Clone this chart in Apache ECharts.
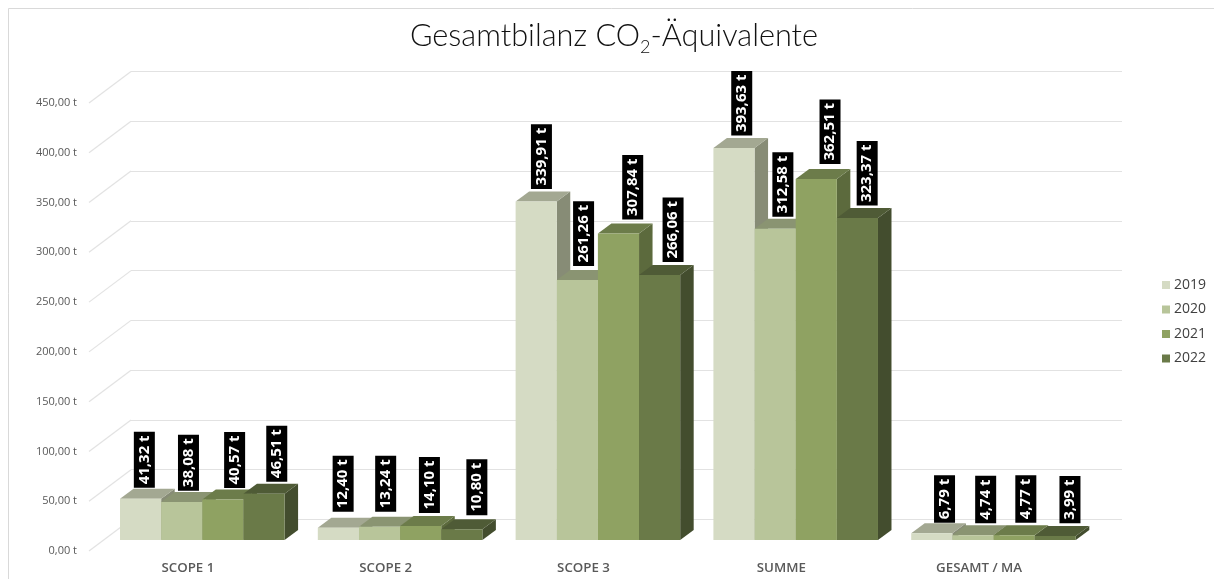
<!DOCTYPE html>
<html><head><meta charset="utf-8">
<style>html,body{margin:0;padding:0;background:#fff}#c{width:1214px;height:579px}</style>
<script src="https://cdn.jsdelivr.net/npm/echarts@6/dist/echarts.min.js"></script>
</head><body><div id="c"></div>
<script>
const categories = ['SCOPE 1','SCOPE 2','SCOPE 3','SUMME','GESAMT / MA'];
const years = ['2019','2020','2021','2022'];
const v2019 = [41.32,12.40,339.91,393.63,6.79];
const v2020 = [38.08,13.24,261.26,312.58,4.74];
const v2021 = [40.57,14.10,307.84,362.51,4.77];
const v2022 = [46.51,10.80,266.06,323.37,3.99];
const axisTicks = [0,50,100,150,200,250,300,350,400,450];
const values = [v2019,v2020,v2021,v2022];

const frontColors = ['#D5DBC4','#B8C59A','#8FA262','#6A7A48'];
const topColors   = ['#A3A892','#8A9472','#6C7C4A','#4F5B36'];
const sideColors  = ['#878C76','#7A8462','#5C6A3D','#434D2E'];
const DX = 13.5, DY = -10;
const FONT = '"Open Sans"';
// hand-placed label nudges of the original, px relative to the default anchor
const nudgeX = [[-3,0,5,6],[-2,-0.6,2,8.3],[-1.5,-0.5,7.5,6.7],[1,1,7,3],[6,6,5,8]];
const labelGap = [[1,1.4,1.6,2],[6,5,3,4],[2.7,4,4,3],[2.5,2,5,2.5],[0.5,2,2.5,2.7]];

function fmt(v){return v.toFixed(2).replace('.',',');}

function barItem(si){
  return function(params, api){
    const cat = api.value(0), val = api.value(1);
    const c0 = api.coord([cat,0]), c1 = api.coord([cat,val]);
    const band = api.size([1,0])[0];
    const w = band*0.832/4;
    const x0 = c0[0]-band*0.416+si*w, x1 = x0+w, yb = c0[1], yt = c1[1];
    const poly=(pts,fill,z)=>({type:'polygon',shape:{points:pts},style:{fill:fill},z2:z,silent:true});
    const zb = 10+si;
    return {type:'group',children:[
      poly([[x1,yb],[x1+DX,yb+DY],[x1+DX,yt+DY],[x1,yt]],sideColors[si],zb),
      poly([[x0,yt],[x1,yt],[x1+DX,yt+DY],[x0+DX,yt+DY]],topColors[si],zb),
      poly([[x0,yb],[x1,yb],[x1,yt],[x0,yt]],frontColors[si],zb),
      {type:'text',x:(x0+x1+DX)/2+nudgeX[cat][si],y:yt+DY-labelGap[cat][si],rotation:Math.PI/2,z2:100,silent:true,
       style:{text:fmt(val)+' t',fill:'#fff',font:'700 15px '+FONT,align:'left',verticalAlign:'middle',
              backgroundColor:'#000',padding:[3,3.5,3,3.5]}}
    ]};
  };
}
function diagItem(params, api){
  const v = api.value(0);
  const p = api.coord([0,v]);
  const x = p[0]-api.size([1,0])[0]/2;
  return {type:'line',shape:{x1:x,y1:p[1],x2:x+42,y2:p[1]-31.5},style:{stroke:'#E2E2E2',lineWidth:1.2},silent:true};
}

const barSeries = years.map((y,si)=>({
  name:y,type:'custom',xAxisIndex:0,yAxisIndex:0,coordinateSystem:'cartesian2d',
  clip:false,animation:false,silent:true,z:5,
  itemStyle:{color:frontColors[si]},
  renderItem:barItem(si),
  encode:{x:0,y:1},
  data:categories.map((c,i)=>[i,values[si][i]])
}));
const diagSeries = {type:'custom',xAxisIndex:1,yAxisIndex:1,clip:false,animation:false,silent:true,z:1,
  renderItem:diagItem,encode:{y:0},data:axisTicks.map(t=>[t])};

const yBase = {type:'value',min:0,max:450,interval:50,axisLine:{show:false},axisTick:{show:false},axisLabel:{show:false},splitLine:{show:false}};
const xBase = {type:'category',data:categories,axisLine:{show:false},axisTick:{show:false},axisLabel:{show:false},splitLine:{show:false}};

const chart = echarts.init(document.getElementById('c'),null,{renderer:'canvas'});
chart.setOption({
  animation:false,backgroundColor:'#fff',
  graphic:[
    {type:'polyline',silent:true,shape:{points:[[8.5,579],[8.5,8.5],[1214,8.5]]},style:{fill:null,stroke:'#D9D9D9',lineWidth:1}}
  ],
  title:{text:'{a|Gesamtbilanz CO}{s|2}{a|-Äquivalente}',left:609,top:12,textAlign:'center',
    textStyle:{rich:{
      a:{fontFamily:'Lato',fontWeight:300,fontSize:30.7,color:'#111111',lineHeight:38},
      s:{fontFamily:'Lato',fontWeight:300,fontSize:18,color:'#111111',lineHeight:38,padding:[22,0,0,0]}
    }}},
  legend:{data:years,orient:'vertical',left:1157,top:273,itemWidth:8,itemHeight:8,itemGap:10.5,icon:'rect',
    textStyle:{fontFamily:FONT,fontSize:14,color:'#404040',padding:[0,0,0,-1]}},
  grid:[
    {left:103.4,top:92,width:989,height:448},
    {left:89,top:103,width:989,height:448},
    {left:131,top:71.5,width:991,height:448}
  ],
  xAxis:[
    Object.assign({},xBase,{gridIndex:0}),
    Object.assign({},xBase,{gridIndex:1,axisLabel:{show:true,margin:11,fontFamily:FONT,fontSize:13.3,fontWeight:600,color:'#595959'}}),
    Object.assign({},xBase,{gridIndex:2})
  ],
  yAxis:[
    Object.assign({},yBase,{gridIndex:0}),
    Object.assign({},yBase,{gridIndex:1,axisLabel:{show:true,margin:12,fontFamily:FONT,fontSize:11,color:'#595959',formatter:v=>fmt(v)+' t'}}),
    Object.assign({},yBase,{gridIndex:2,splitLine:{show:true,lineStyle:{color:'#E2E2E2',width:1.2}}})
  ],
  series:[diagSeries].concat(barSeries)
});
</script></body></html>
